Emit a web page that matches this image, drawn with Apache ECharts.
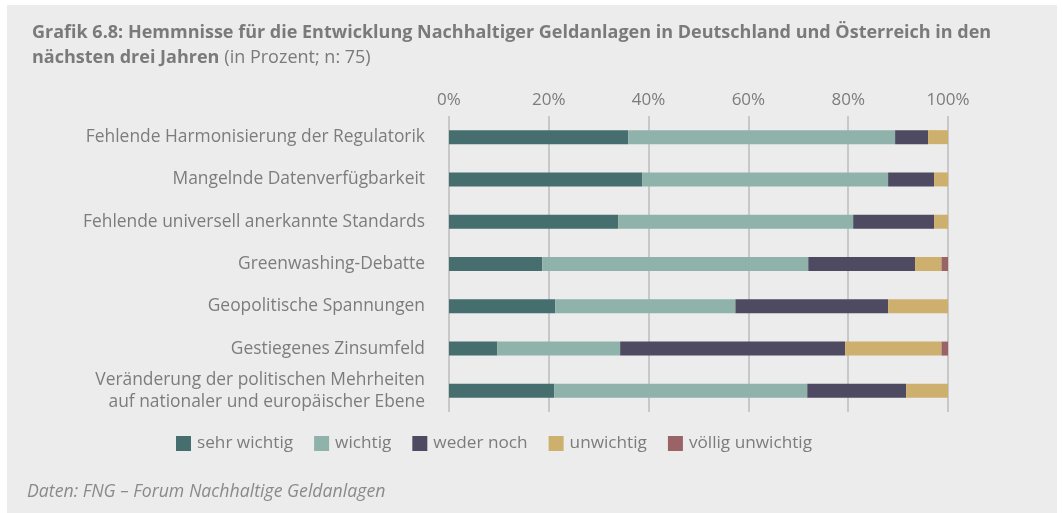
<!DOCTYPE html>
<html>
<head>
<meta charset="utf-8">
<script src="https://cdn.jsdelivr.net/npm/echarts@6/dist/echarts.min.js"></script>
<style>
  html, body { margin: 0; padding: 0; background: #ffffff; }
  #panel { position: absolute; left: 7px; top: 5px; width: 1050px; height: 508px; background: #ebeceb; }
  #chart { position: absolute; left: 0; top: 0; width: 1062px; height: 513px; }
</style>
</head>
<body>
<div id="panel"></div>
<div id="chart"></div>
<script>
const categories = [
  'Fehlende Harmonisierung der Regulatorik',
  'Mangelnde Datenverfügbarkeit',
  'Fehlende universell anerkannte Standards',
  'Greenwashing-Debatte',
  'Geopolitische Spannungen',
  'Gestiegenes Zinsumfeld',
  'Veränderung der politischen Mehrheiten\nauf nationaler und europäischer Ebene'
];
const seriesNames = ['sehr wichtig', 'wichtig', 'weder noch', 'unwichtig', 'völlig unwichtig'];
const sehrWichtig     = [35.9, 38.7, 33.9, 18.7, 21.3, 9.7, 21.1];
const wichtig         = [53.5, 49.3, 47.1, 53.3, 36.1, 24.6, 50.7];
const wederNoch       = [6.6, 9.2, 16.2, 21.4, 30.6, 45.1, 19.8];
const unwichtig       = [4.0, 2.8, 2.8, 5.3, 12.0, 19.3, 8.4];
const voelligUnwichtig = [0, 0, 0, 1.3, 0, 1.3, 0];
const tickValues = [0, 20, 40, 60, 80, 100];

const colors = ['#466e6e', '#8fb3ab', '#4d4a62', '#ceb06e', '#9a6466'];
const values = [sehrWichtig, wichtig, wederNoch, unwichtig, voelligUnwichtig];
const fontFam = '"Open Sans", Lato, sans-serif';
const textColor = '#7c7c7c';

const chart = echarts.init(document.getElementById('chart'), null, { renderer: 'canvas' });
chart.setOption({
  backgroundColor: 'transparent',
  animation: false,
  title: {
    left: 27, top: 15,
    text: '{b|Grafik 6.8: Hemmnisse für die Entwicklung Nachhaltiger Geldanlagen in Deutschland und Österreich in den}\n{b|nächsten drei Jahren} {r|(in Prozent; n: 75)}',
    textStyle: {
      rich: {
        b: { fontFamily: fontFam, fontWeight: 'bold', fontSize: 18, color: '#7a7a7a', lineHeight: 25 },
        r: { fontFamily: fontFam, fontWeight: 'normal', fontSize: 18, color: '#7a7a7a', lineHeight: 25 }
      }
    }
  },
  legend: {
    left: 176, top: 435, padding: 0,
    itemWidth: 15, itemHeight: 15, itemGap: 21,
    icon: 'rect',
    textStyle: { fontFamily: fontFam, fontSize: 17.2, color: textColor, padding: [0, 0, 0, 1] },
    data: seriesNames
  },
  graphic: [{
    type: 'text', left: 27, top: 483,
    style: { text: 'Daten: FNG – Forum Nachhaltige Geldanlagen', fontFamily: fontFam, fontStyle: 'italic', fontSize: 17.7, fill: '#8a8a8a' }
  }],
  grid: { left: 449, top: 116, width: 499, height: 296, containLabel: false },
  xAxis: {
    type: 'value', position: 'top', min: 0, max: 100, interval: 20,
    axisLine: { show: false }, axisTick: { show: false },
    axisLabel: { formatter: '{value}%', fontFamily: fontFam, fontSize: 17, color: textColor, margin: 7 },
    splitLine: { show: true, lineStyle: { color: '#bdbdbd', width: 1.5 } }
  },
  yAxis: {
    type: 'category', inverse: true, data: categories,
    axisLine: { show: false }, axisTick: { show: false },
    axisLabel: { fontFamily: fontFam, fontSize: 17.4, color: textColor, margin: 24, lineHeight: 22, align: 'right' }
  },
  series: seriesNames.map((n, i) => ({
    name: n, type: 'bar', stack: 'total', barWidth: 14,
    itemStyle: { color: colors[i] },
    data: values[i]
  }))
});
</script>
</body>
</html>
